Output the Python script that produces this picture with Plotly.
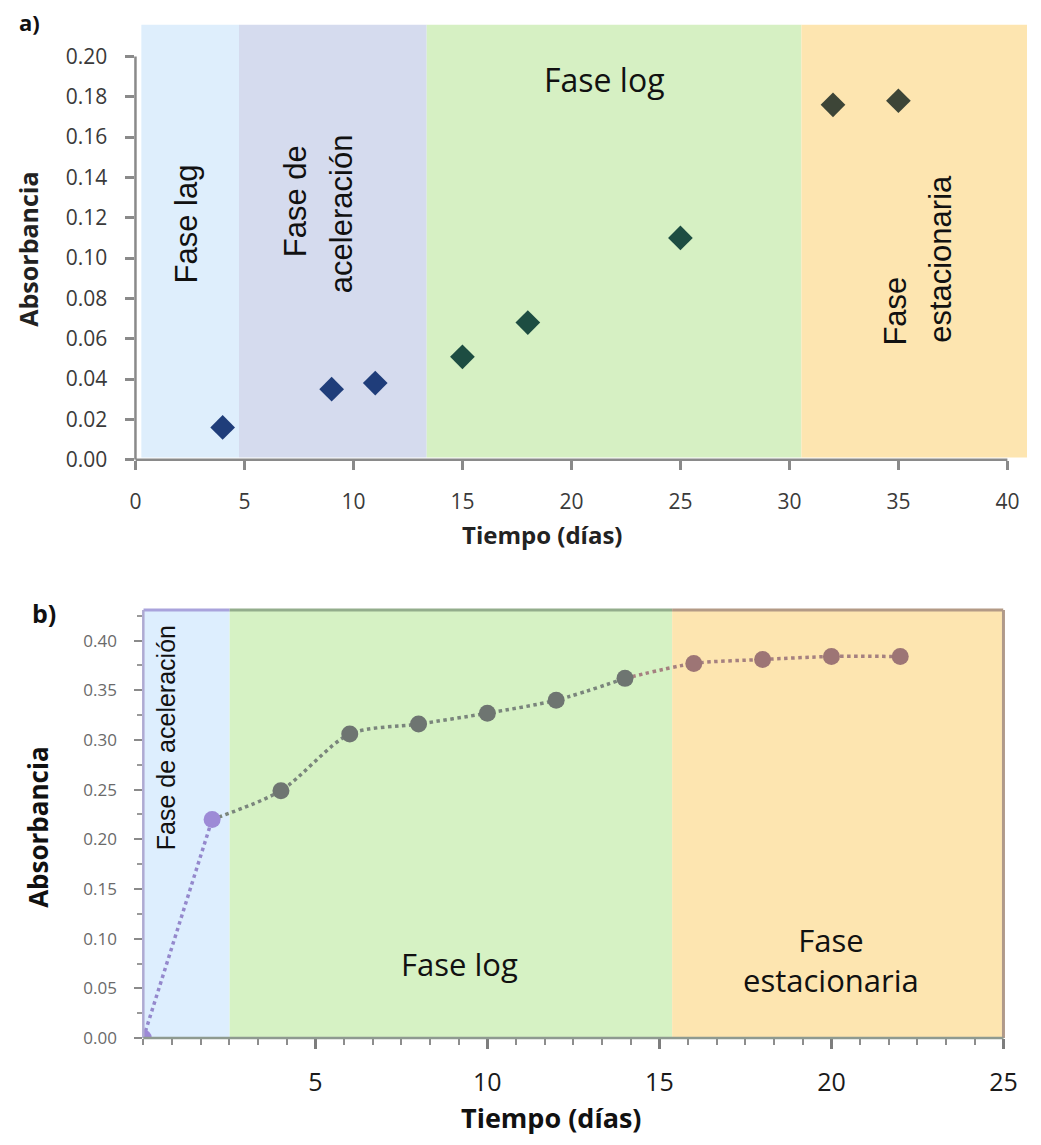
import plotly.graph_objects as go

# ---------------- data ----------------
# Panel a)
days_a = [4, 9, 11, 15, 18, 25, 32, 35]
abs_a = [0.016, 0.035, 0.038, 0.051, 0.068, 0.110, 0.176, 0.178]
phase_a = ["lag", "acel", "acel", "log", "log", "log", "stat", "stat"]
bounds_a = [0.27, 4.75, 13.36, 30.55, 40.9]          # phase limits (días)
names_a = ["Fase lag", "Fase de aceleración", "Fase log", "Fase estacionaria"]
xticks_a = [0, 5, 10, 15, 20, 25, 30, 35, 40]
yticks_a = [0.00, 0.02, 0.04, 0.06, 0.08, 0.10, 0.12, 0.14, 0.16, 0.18, 0.20]

# Panel b)
days_b = [0, 2, 4, 6, 8, 10, 12, 14, 16, 18, 20, 22]
abs_b = [0.000, 0.220, 0.249, 0.306, 0.316, 0.327, 0.340, 0.362, 0.377, 0.381, 0.384, 0.384]
phase_b = ["acel", "acel", "log", "log", "log", "log", "log", "log", "stat", "stat", "stat", "stat"]
bounds_b = [0, 2.51, 15.37, 25]
names_b = ["Fase de aceleración", "Fase log", "Fase estacionaria"]
xticks_b = [5, 10, 15, 20, 25]
yticks_b = [0.00, 0.05, 0.10, 0.15, 0.20, 0.25, 0.30, 0.35, 0.40]

# ---------------- styles ----------------
W, H = 1041, 1145
band_col_a = ["#deeefc", "#d5dbee", "#d6f0c3", "#fde5b0"]
band_col_b = ["#ddeefe", "#d6f2c4", "#fde5b0"]
edge_col_b = ["#a9a3dc", "#93ad8c", "#b39a86"]
mk_col_a = {"lag": "#1f3d7a", "acel": "#1f3d7a", "log": "#1d4d42", "stat": "#3d4537"}
mk_col_b = {"acel": "#9d8ad6", "log": "#6e7571", "stat": "#9d7575"}
seg_col_b = {"acel": "#9488cc", "log": "#7a857c", "stat": "#a58080"}

TXT = "Open Sans"
ARIAL = "Liberation Sans"

def px_x(p):
    return p / W

def px_y(p):
    return 1 - p / H

fig = go.Figure()

# ---------- panel a traces ----------
fig.add_trace(go.Scatter(
    x=days_a, y=abs_a, mode="markers", xaxis="x", yaxis="y",
    marker=dict(symbol="diamond", size=19, color=[mk_col_a[p] for p in phase_a],
                line=dict(width=0)),
    showlegend=False, hoverinfo="x+y"))

# ---------- panel b traces ----------
idx_log0 = phase_b.index("log")
idx_stat0 = phase_b.index("stat")
segs = [("acel", 0, idx_log0 - 1),
        ("log", idx_log0 - 1, idx_stat0 - 1),
        ("stat", idx_stat0 - 1, len(days_b) - 1)]
for ph, i0, i1 in segs:
    fig.add_trace(go.Scatter(
        x=days_b[i0:i1 + 1], y=abs_b[i0:i1 + 1], mode="lines", xaxis="x2", yaxis="y2",
        line=dict(color=seg_col_b[ph], width=3.5, dash="dot", shape="spline", smoothing=0.8),
        showlegend=False, hoverinfo="skip"))
fig.add_trace(go.Scatter(
    x=days_b, y=abs_b, mode="markers", xaxis="x2", yaxis="y2",
    marker=dict(symbol="circle", size=17, color=[mk_col_b[p] for p in phase_b],
                line=dict(width=0)),
    showlegend=False, hoverinfo="x+y"))

shapes = []
for i in range(len(names_a)):
    shapes.append(dict(type="rect", xref="x", yref="y domain",
                       x0=bounds_a[i], x1=bounds_a[i + 1], y0=0.005, y1=1,
                       fillcolor=band_col_a[i], line=dict(width=0), layer="below"))
shapes.append(dict(type="line", xref="x domain", yref="y", x0=0, x1=0,
                   y0=0, y1=yticks_a[-1], line=dict(color="#8a8a8a", width=2.5)))
shapes.append(dict(type="line", xref="x", yref="y domain", x0=0, x1=xticks_a[-1],
                   y0=0, y1=0, line=dict(color="#8a8a8a", width=2.5)))
for i in range(len(names_b)):
    shapes.append(dict(type="rect", xref="x2", yref="y2 domain",
                       x0=bounds_b[i], x1=bounds_b[i + 1], y0=0, y1=1,
                       fillcolor=band_col_b[i], line=dict(width=0), layer="below"))
    shapes.append(dict(type="line", xref="x2", yref="y2 domain",
                       x0=bounds_b[i], x1=bounds_b[i + 1], y0=1, y1=1,
                       line=dict(color=edge_col_b[i], width=3)))
shapes.append(dict(type="line", xref="x2 domain", yref="y2 domain", x0=1, x1=1,
                   y0=0, y1=1, line=dict(color="#b09a8a", width=3)))
shapes.append(dict(type="line", xref="x2 domain", yref="y2 domain", x0=0, x1=0,
                   y0=0, y1=1, line=dict(color="#aeaad2", width=2.5)))
shapes.append(dict(type="line", xref="x2 domain", yref="y2 domain", x0=0, x1=1,
                   y0=0, y1=0, line=dict(color="#8e9a90", width=2.5)))

def pa(text, x, y, size, angle=0, color="#111"):
    return dict(text=text, x=px_x(x), y=px_y(y), xref="paper", yref="paper",
                xanchor="center", yanchor="middle", textangle=angle, showarrow=False,
                font=dict(family=TXT, size=size, color=color))

ann = []
ann.append(pa("<b>a)</b>", 24, 22, 22))
ann.append(pa("<b>b)</b>", 39, 620, 25))
ann.append(pa("<b>Absorbancia</b>", 23, 252, 25, -90, "#222"))
ann.append(pa("<b>Tiempo (días)</b>", 547, 541, 24, 0, "#222"))
ann.append(pa("<b>Absorbancia</b>", 33, 837, 26, -90))
ann.append(pa("<b>Tiempo (días)</b>", 556, 1130, 27))

def da(text, x, y, xr, yr, size, family, angle=0):
    return dict(text=text, x=x, y=y, xref=xr, yref=yr, xanchor="center", yanchor="middle",
                textangle=angle, showarrow=False, font=dict(family=family, size=size, color="#111"))

# phase labels panel a
ann.append(da("Fase lag", 2.35, 0.117, "x", "y", 31, ARIAL, -90))
ann.append(da("Fase de", 7.35, 0.128, "x", "y", 31, ARIAL, -90))
ann.append(da("aceleración", 9.45, 0.122, "x", "y", 31, ARIAL, -90))
ann.append(da("Fase log", 21.5, 0.1885, "x", "y", 32, TXT))
ann.append(da("Fase", 34.85, 0.0735, "x", "y", 31, ARIAL, -90))
ann.append(da("estacionaria", 36.9, 0.0995, "x", "y", 31, ARIAL, -90))
# phase labels panel b
ann.append(da("Fase de aceleración", 0.68, 0.3025, "x2", "y2", 25, ARIAL, -90))
ann.append(da("Fase log", 9.2, 0.0746, "x2", "y2", 31, TXT))
ann.append(da("Fase<br>estacionaria", 20.0, 0.0786, "x2", "y2", 31, TXT))

fig.update_layout(
    width=W, height=H, autosize=False,
    margin=dict(l=0, r=0, t=0, b=0, pad=0),
    paper_bgcolor="white", plot_bgcolor="rgba(0,0,0,0)",
    showlegend=False,
    shapes=shapes, annotations=ann,
    xaxis=dict(domain=[px_x(132), 1.0], range=[0, bounds_a[-1]], anchor="y",
               tickmode="array", tickvals=xticks_a, ticks="outside", ticklen=9,
               tickwidth=2.5, tickcolor="#8a8a8a", showgrid=False, zeroline=False,
               showline=False, ticklabelstandoff=14,
               tickfont=dict(family=TXT, size=21, color="#3a3a3a")),
    yaxis=dict(domain=[px_y(465), px_y(25)], range=[0, 0.2157], anchor="x",
               tickmode="array", tickvals=yticks_a, tickformat=".2f", ticks="outside",
               ticklen=9, tickwidth=2.5, tickcolor="#8a8a8a", showgrid=False, zeroline=False,
               showline=False, ticklabelstandoff=14,
               tickfont=dict(family=TXT, size=21, color="#3a3a3a")),
    xaxis2=dict(domain=[px_x(140), px_x(1017)], range=[0, 25], anchor="y2",
                tickmode="array", tickvals=xticks_b, ticks="outside", ticklen=10,
                tickwidth=2.5, tickcolor="#7d7d7d", showgrid=False, zeroline=False,
                showline=False, ticklabelstandoff=12,
                minor=dict(ticks="outside", ticklen=6, tickwidth=2, tickcolor="#8d8d8d",
                           dtick=25 / 30, tick0=0, showgrid=False),
                tickfont=dict(family=TXT, size=25, color="#1a1a1a")),
    yaxis2=dict(domain=[px_y(1050), px_y(617)], range=[0, 0.4308], anchor="x2",
                tickmode="array", tickvals=yticks_b, tickformat=".2f", ticks="outside",
                ticklen=8, tickwidth=1.5, tickcolor="#8a8a8a", showgrid=False, zeroline=False,
                showline=False, ticklabelstandoff=14,
                minor=dict(ticks="outside", ticklen=5, tickwidth=1.5, tickcolor="#9a9a9a",
                           dtick=0.025, tick0=0, showgrid=False),
                tickfont=dict(family=TXT, size=17, color="#6a6a6a")),
)

fig.write_html("out.html")
